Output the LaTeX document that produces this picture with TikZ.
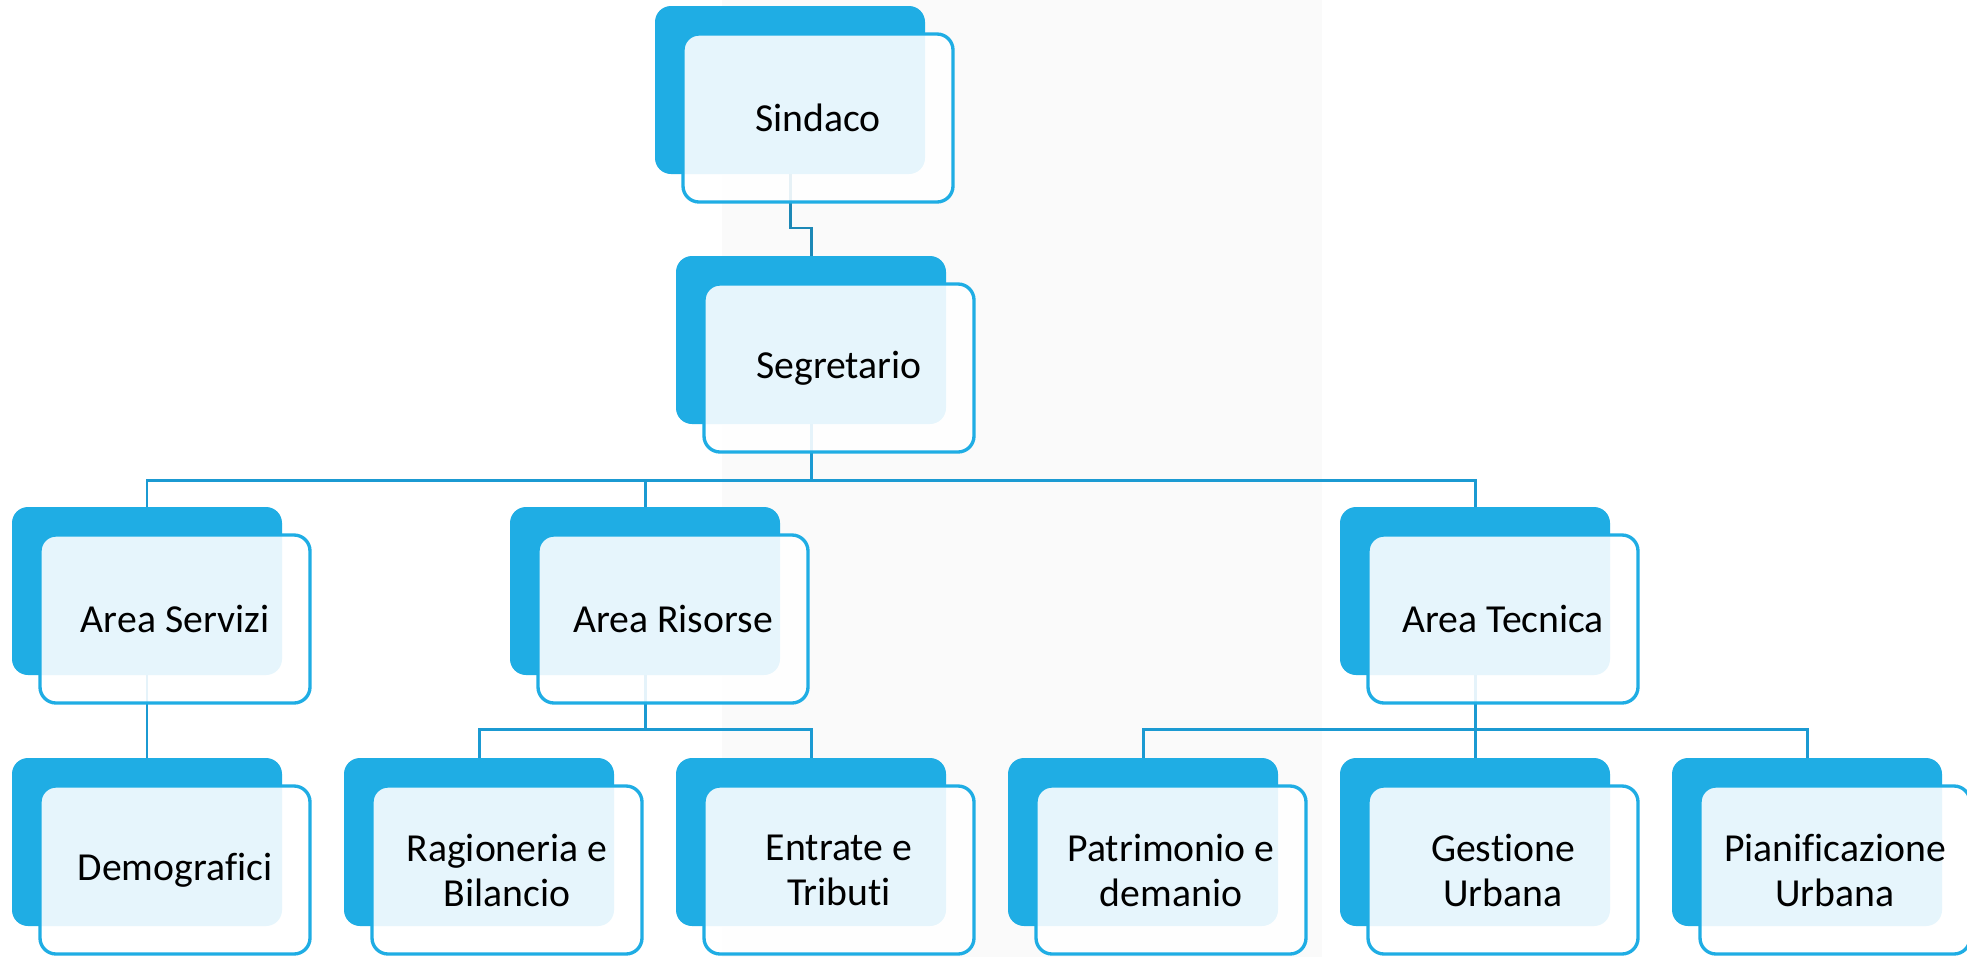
\documentclass[tikz,border=0pt]{standalone}
\usepackage{fontspec}
\setmainfont{Carlito}[Ligatures={NoCommon}]
\definecolor{darkblue}{HTML}{1FADE4}
\definecolor{connblue}{HTML}{1B9AD2}
\definecolor{conndeep}{HTML}{1C88B6}
\definecolor{bggray}{HTML}{FAFAFA}
\begin{document}
\begin{tikzpicture}[x=0.1mm,y=-0.1mm,
  darkbox/.style={fill=darkblue, draw=none, rounded corners=1.6mm,
    minimum width=27mm, minimum height=16.8mm, inner sep=0pt, outer sep=0pt},
  frontbox/.style={fill=white, fill opacity=0.89, text opacity=1, draw=darkblue,
    draw opacity=1, line width=0.95pt, rounded corners=1.6mm,
    minimum width=27mm, minimum height=16.8mm, inner sep=0pt, outer sep=0pt,
    align=center, font=\fontsize{11.3}{12.8}\selectfont},
  connline/.style={draw=connblue, line width=0.85pt},
  conndark/.style={draw=conndeep, line width=0.85pt}]
\useasboundingbox (0,0) rectangle (1967,957);
\clip (0,0) rectangle (1967,957);
\fill[white] (0,0) rectangle (1967,957);
\fill[bggray] (722,0) rectangle (1322,957);

% back (dark) boxes
\node[darkbox] (sinB) at (790,90) {};
\node[darkbox] (segB) at (811,340) {};
\node[darkbox] (serB) at (147,591) {};
\node[darkbox] (risB) at (645,591) {};
\node[darkbox] (tecB) at (1475,591) {};
\node[darkbox] (demB) at (147,842) {};
\node[darkbox] (ragB) at (479,842) {};
\node[darkbox] (entB) at (811,842) {};
\node[darkbox] (patB) at (1143,842) {};
\node[darkbox] (gesB) at (1475,842) {};
\node[darkbox] (piaB) at (1807,842) {};

% connectors
\draw[conndark] (sinB.south) -- ++(0,54) -| (segB.north);
\draw[connline] (segB.south) -- ++(0,56) coordinate (b1);
\draw[connline] (b1) -| (serB.north);
\draw[connline] (b1) -| (risB.north);
\draw[connline] (b1) -| (tecB.north);
\draw[connline] (serB.south) -- (demB.north);
\draw[connline] (risB.south) -- ++(0,54) coordinate (b2);
\draw[connline] (b2) -| (ragB.north);
\draw[connline] (b2) -| (entB.north);
\draw[connline] (tecB.south) -- ++(0,54) coordinate (b3);
\draw[connline] (b3) -| (patB.north);
\draw[connline] (b3) -| (gesB.north);
\draw[connline] (b3) -| (piaB.north);

% front boxes with text
\node[frontbox] (sin) at (818,118) {Sindaco};
\node[frontbox] (seg) at (839,368) {Segretario};
\node[frontbox] (ser) at (175,619) {Area Servizi};
\node[frontbox] (ris) at (673,619) {Area Risorse};
\node[frontbox] (tec) at (1503,619) {Area Tecnica};
\node[frontbox] (dem) at (175,870) {Demografici};
\node[frontbox] (rag) at (507,870) {Ragioneria e\\Bilancio};
\node[frontbox] (ent) at (839,870) {Entrate e\\Tributi};
\node[frontbox] (pat) at (1171,870) {Patrimonio e\\demanio};
\node[frontbox] (ges) at (1503,870) {Gestione\\Urbana};
\node[frontbox] (pia) at (1835,870) {Pianificazione\\Urbana};
\end{tikzpicture}
\end{document}
